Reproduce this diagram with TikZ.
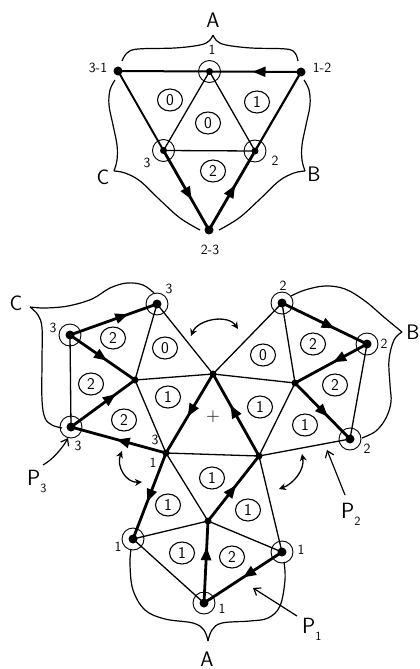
\documentclass[tikz,border=0pt]{standalone}
\usetikzlibrary{arrows.meta,decorations.markings,shapes.geometric}
\begin{document}
\begin{tikzpicture}[x=1pt,y=-1pt,font=\sffamily,
  thinedge/.style={line width=1.3pt},
  boldedge/.style={line width=2.8pt},
  arrowat/.style={postaction={decorate},decoration={markings,mark=at position #1 with {\arrow{Triangle[length=13pt,width=10pt]}}}},
  bigdot/.style={circle,fill,inner sep=0pt,minimum size=9pt},
  smalldot/.style={circle,fill,inner sep=0pt,minimum size=7pt},
  ring/.style={circle,draw,line width=0.9pt,inner sep=0pt,minimum size=22pt},
  region/.style={ellipse,draw,line width=1.1pt,inner sep=0pt,minimum width=25pt,minimum height=22pt,font=\sffamily\fontsize{16.5}{16.5}\selectfont},
  vlabel/.style={font=\sffamily\fontsize{14}{14}\selectfont,inner sep=0pt},
  letter/.style={font=\sffamily\fontsize{21}{21}\selectfont,inner sep=0pt},
  plabel/.style={font=\sffamily\fontsize{22}{22}\selectfont,inner sep=0pt,anchor=base west},
  brace/.style={line width=1.2pt},
  dbl/.style={line width=1.3pt,{Stealth[length=7pt,width=7pt]}-{Stealth[length=7pt,width=7pt]}},
  pointer/.style={line width=1.2pt,-{Straight Barb[length=6pt,width=9pt]}},
]
\useasboundingbox (0,0) rectangle (420,669);

% ---------------- top figure ----------------
\coordinate (v31) at (118,71);
\coordinate (v12) at (301,72);
\coordinate (v23) at (209,230);
\coordinate (m1) at (209.5,71.5);
\coordinate (m3) at (163.5,150.5);
\coordinate (m2) at (255,151);

\draw[thinedge] (m1) -- (m3) -- (m2) -- cycle;
\draw[line width=2pt] (v31) -- (m1);
\draw[line width=2pt,arrowat=0.53] (v12) -- (m1);
\draw[line width=1.9pt] (v31) -- (m3);
\draw[boldedge,arrowat=0.62] (m3) -- (v23);
\draw[boldedge,arrowat=0.57] (v23) -- (m2);
\draw[line width=2.2pt] (m2) -- (v12);

\node[bigdot] (dv31) at (v31) {};
\node[bigdot] (dv12) at (v12) {};
\node[bigdot] (dv23) at (v23) {};
\node[smalldot] (dm1) at (m1) {};
\node[smalldot] (dm3) at (m3) {};
\node[smalldot] (dm2) at (m2) {};
\node[ring] (rm1) at (m1) {};
\node[ring] (rm3) at (m3) {};
\node[ring] (rm2) at (m2) {};

\node[vlabel] (l31) at (98,68) {3-1};
\node[vlabel] (l12) at (322,68) {1-2};
\node[vlabel] (l23) at (210,250) {2-3};
\node[vlabel] (lm1) at (212,50) {1};
\node[vlabel] (lm3) at (147,163) {3};
\node[vlabel] (lm2) at (275,161) {2};

\node[region] (ta) at (170,100) {0};
\node[region] (tb) at (257,102) {1};
\node[region] (tc) at (208,123) {0};
\node[region] (td) at (213,171) {2};

\draw[brace] plot[smooth,tension=0.6] coordinates {(122,61) (127,53) (138,49) (175,48) (200,45) (209,41) (213,35)};
\draw[brace] plot[smooth,tension=0.6] coordinates {(213,35) (217,41) (226,45) (251,48) (286,49) (295,53) (298,61)};
\draw[brace] plot[smooth,tension=0.6] coordinates {(115,80) (110,90) (109,105) (113,125) (117,145) (117,160) (114,171)};
\draw[brace] plot[smooth,tension=0.6] coordinates {(114,171) (125,173) (140,181) (160,200) (180,218) (200,230)};
\draw[brace] plot[smooth,tension=0.6] coordinates {(304,80) (309,90) (310,105) (306,125) (302,145) (302,160) (305,171)};
\draw[brace] plot[smooth,tension=0.6] coordinates {(305,171) (294,173) (279,181) (259,200) (239,218) (219,230)};

\node[letter] (tA) at (213,20) {A};
\node[letter] (tC) at (103,177) {C};
\node[letter] (tB) at (314,174) {B};

% ---------------- bottom figure ----------------
\coordinate (T) at (213,374);
\coordinate (Lb) at (166,453);
\coordinate (Rb) at (259,456);
\coordinate (L) at (135,380);
\coordinate (top3) at (157,304);
\coordinate (left3) at (70,335);
\coordinate (bl3) at (71,427);
\coordinate (R) at (295,383);
\coordinate (top2) at (282,303);
\coordinate (right2) at (367,344);
\coordinate (br2) at (350,439);
\coordinate (Bm) at (208,521);
\coordinate (left1) at (133,539);
\coordinate (right1) at (282,552);
\coordinate (bot1) at (204,603);

% thin edges
\draw[thinedge] (T) -- (top3) -- (L) -- (T);
\draw[thinedge] (left3) -- (bl3);
\draw[thinedge] (L) -- (Lb) -- (Rb);
\draw[thinedge] (T) -- (top2) -- (R) -- (T);
\draw[thinedge] (right2) -- (br2) -- (Rb) -- (R);
\draw[thinedge] (left1) -- (Bm) -- (right1) -- (Rb);
\draw[thinedge] (left1) -- (bot1);
\draw[thinedge] (Lb) -- (Bm);

% bold path edges
\draw[boldedge,arrowat=0.67] (left3) -- (top3);
\draw[boldedge,arrowat=0.57] (left3) -- (L);
\draw[boldedge,arrowat=0.7] (bl3) -- (L);
\draw[boldedge,arrowat=0.52] (Lb) -- (bl3);
\draw[boldedge,arrowat=0.54] (T) -- (Lb);
\draw[boldedge,arrowat=0.57] (Lb) -- (left1);
\draw[boldedge,arrowat=0.68] (bot1) -- (Bm);
\draw[boldedge,arrowat=0.55] (Bm) -- (Rb);
\draw[boldedge,arrowat=0.5] (right1) -- (bot1);
\draw[boldedge,arrowat=0.62] (Rb) -- (T);
\draw[boldedge,arrowat=0.62] (top2) -- (right2);
\draw[boldedge,arrowat=0.47] (right2) -- (R);
\draw[boldedge,arrowat=0.6] (R) -- (br2);

% dots
\foreach \p in {T,Lb,Rb,L,R,Bm}{\node[smalldot] (d\p) at (\p) {};}
\foreach \p in {top3,left3,bl3,top2,right2,br2,left1,right1,bot1}{
  \node[bigdot] (d\p) at (\p) {};
  \node[ring] (r\p) at (\p) {};}

% vertex labels
\node[vlabel] (n1) at (169,289) {3};
\node[vlabel] (n2) at (53,328) {3};
\node[vlabel] (n3) at (78,446) {3};
\node[vlabel] (n4) at (155,440) {3};
\node[vlabel] (n5) at (153,463) {1};
\node[vlabel] (n6) at (118,547) {1};
\node[vlabel] (n7) at (301,550) {1};
\node[vlabel] (n8) at (222,609) {1};
\node[vlabel] (n9) at (283,286) {2};
\node[vlabel] (n10) at (384,344) {2};
\node[vlabel] (n11) at (367,449) {2};

% region labels
\node[region] (ra) at (113,338) {2};
\node[region] (rb) at (165,348) {0};
\node[region] (rc) at (91,384) {2};
\node[region] (rd) at (168,397) {1};
\node[region] (re) at (124,420) {2};
\node[region] (rf) at (263,355) {0};
\node[region] (rg) at (313,344) {2};
\node[region] (rh) at (335,385) {2};
\node[region] (ri) at (260,407) {1};
\node[region] (rj) at (305,425) {1};
\node[region] (rk) at (212,478) {1};
\node[region] (rl) at (168,505) {1};
\node[region] (rm) at (248,510) {1};
\node[region] (rn) at (182,553) {1};
\node[region] (ro) at (232,557) {2};
\node[font=\sffamily\fontsize{19}{19}\selectfont] (plus) at (213,417) {+};

% braces
\draw[brace] plot[smooth,tension=0.6] coordinates {(30,307) (45,308) (68,306) (92,299) (110,288) (127,283) (143,285) (154,293)};
\draw[brace] plot[smooth,tension=0.6] coordinates {(30,307) (38,315) (42,328) (42,360) (42,400) (45,418) (52,425) (62,428)};
\draw[brace] plot[smooth,tension=0.6] coordinates {(291,296) (305,290) (325,286) (345,289) (365,301) (385,318) (402,332)};
\draw[brace] plot[smooth,tension=0.6] coordinates {(402,332) (394,340) (389,360) (390,385) (391,402) (386,418) (376,431) (362,438)};
\draw[brace] plot[smooth,tension=0.6] coordinates {(131,549) (130,565) (133,590) (145,610) (165,619) (193,623) (204,630) (208,641)};
\draw[brace] plot[smooth,tension=0.6] coordinates {(208,641) (212,630) (222,623) (250,621) (268,618) (280,606) (285,580) (284,562)};

\node[letter] (bC) at (16,303) {C};
\node[letter] (bB) at (413,332) {B};
\node[letter] (bA) at (207,659) {A};

% double arrows
\coordinate (da1) at (191,336);
\coordinate (da2) at (238,329);
\draw[dbl] (da1) .. controls (198,319) and (228,314) .. (da2);
\coordinate (db1) at (122,451);
\coordinate (db2) at (142,482);
\draw[dbl] (db1) .. controls (116,466) and (126,483) .. (db2);
\coordinate (dc1) at (302,454);
\coordinate (dc2) at (279,489);
\draw[dbl] (dc1) .. controls (305,470) and (293,484) .. (dc2);

% P labels
\node[plabel] (P3) at (27,485) {P\raisebox{-7pt}{\fontsize{12.5}{12.5}\selectfont 3}};
\node[plabel] (P2) at (341,518) {P\raisebox{-7pt}{\fontsize{12.5}{12.5}\selectfont 2}};
\node[plabel] (P1) at (302,633) {P\raisebox{-7pt}{\fontsize{12.5}{12.5}\selectfont 1}};
\coordinate (p3a) at (43,465);
\coordinate (p3b) at (68,438);
\draw[pointer] (p3a) .. controls (52,460) and (62,449) .. (p3b);
\coordinate (p2a) at (345,495);
\coordinate (p2b) at (327,450);
\draw[pointer] (p2a) -- (p2b);
\coordinate (p1a) at (297,616);
\coordinate (p1b) at (253,588);
\draw[pointer] (p1a) -- (p1b);
\end{tikzpicture}
\end{document}
